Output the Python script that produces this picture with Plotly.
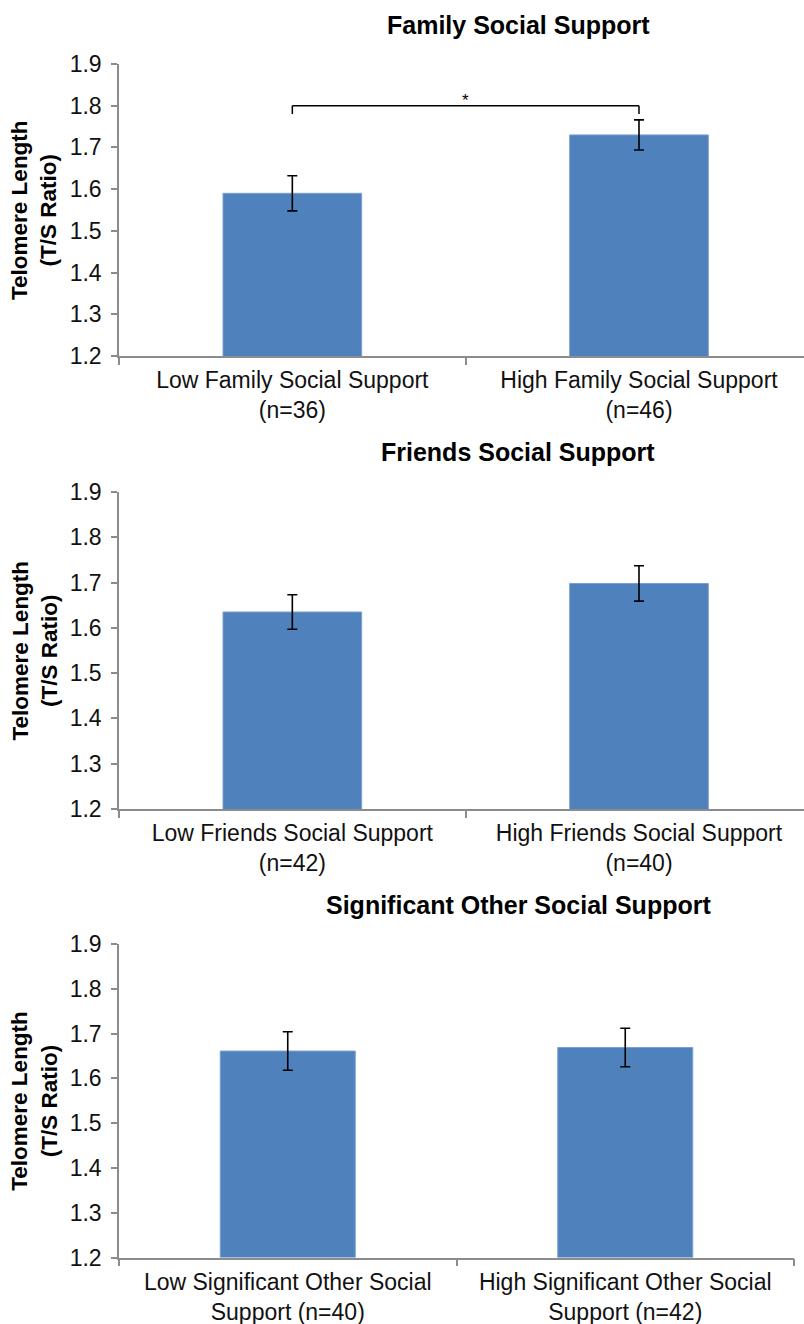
import plotly.graph_objects as go

# ---------------- data ----------------
titles = ["Family Social Support", "Friends Social Support", "Significant Other Social Support"]

cats_family = ["Low Family Social Support<br>(n=36)", "High Family Social Support<br>(n=46)"]
cats_friends = ["Low Friends Social Support<br>(n=42)", "High Friends Social Support<br>(n=40)"]
cats_sigother = ["Low Significant Other Social<br>Support (n=40)", "High Significant Other Social<br>Support (n=42)"]

means_family = [1.59, 1.73]
err_family = [0.042, 0.036]
means_friends = [1.635, 1.698]
err_friends = [0.038, 0.039]
means_sigother = [1.661, 1.669]
err_sigother = [0.043, 0.043]

y_ticks = [1.2, 1.3, 1.4, 1.5, 1.6, 1.7, 1.8, 1.9]
y_title = "Telomere Length<br>(T/S Ratio)"
sig_label = "*"
sig_y = 1.80

# ---------------- style ----------------
W, H = 804, 1324
BAR = "#4F81BD"
AXC = "#8C8C8C"
FONT = "Liberation Sans, Arial, sans-serif"

def py(p):  # pixel from top -> paper y
    return 1 - p / H

def px(p):
    return p / W

panels = [
    (cats_family, means_family, err_family, (64, 356), (119, 804), [-0.5, 1.476]),
    (cats_friends, means_friends, err_friends, (492, 809), (119, 804), [-0.5, 1.476]),
    (cats_sigother, means_sigother, err_sigother, (944, 1257.5), (119, 794), [-0.5, 1.5]),
]
title_y = [25, 452, 905]

fig = go.Figure()
annotations = []
for i, (cats, means, errs, (yt, yb), (xl, xr), xr_range) in enumerate(panels):
    n = "" if i == 0 else str(i + 1)
    fig.add_trace(go.Bar(
        x=cats, y=means,
        marker=dict(color=BAR, line=dict(color="#7A9FCF", width=1)),
        width=0.4,
        error_y=dict(type="data", array=errs, visible=True, color="black", thickness=1.6, width=5),
        xaxis="x" + n, yaxis="y" + n, showlegend=False,
    ))
    fig.layout["xaxis" + n] = dict(
        domain=[px(xl), px(xr)], anchor="y" + n, type="category", range=xr_range,
        showline=True, linecolor=AXC, linewidth=1.5, ticks="outside", tickson="boundaries",
        ticklen=7, tickcolor=AXC, tickwidth=1.5, showgrid=False, automargin=False,
        tickfont=dict(family=FONT, size=23, color="#111"), ticklabelstandoff=3,
    )
    fig.layout["yaxis" + n] = dict(
        domain=[py(yb), py(yt)], anchor="x" + n, range=[1.2, 1.9],
        tickvals=y_ticks, tickformat=".1f", automargin=False,
        showline=True, linecolor=AXC, linewidth=1.5, ticks="outside", ticklen=6,
        tickcolor=AXC, tickwidth=1.5, showgrid=False, zeroline=False,
        tickfont=dict(family=FONT, size=23, color="#111"), ticklabelstandoff=5,
    )
    annotations.append(dict(
        text="<b>" + titles[i] + "</b>", xref="paper", yref="paper",
        x=px(518), y=py(title_y[i]), xanchor="center", yanchor="middle",
        showarrow=False, font=dict(family=FONT, size=25, color="black"),
    ))
    annotations.append(dict(
        text="<b>" + y_title + "</b>", xref="paper", yref="paper",
        x=px(34), y=py((yt + yb) / 2), xanchor="center", yanchor="middle",
        textangle=-90, showarrow=False, font=dict(family=FONT, size=22.5, color="black"),
    ))

# significance bracket on panel 1
fig.add_shape(type="line", xref="x", yref="y", x0=0, x1=1, y0=sig_y, y1=sig_y,
              line=dict(color="black", width=1.5))
fig.add_shape(type="line", xref="x", yref="y", x0=0, x1=0, y0=sig_y, y1=sig_y - 0.02,
              line=dict(color="black", width=1.5))
fig.add_shape(type="line", xref="x", yref="y", x0=1, x1=1, y0=sig_y, y1=sig_y - 0.02,
              line=dict(color="black", width=1.5))
annotations.append(dict(text=sig_label, xref="x", yref="y", x=0.5, y=sig_y + 0.012,
                        xanchor="center", yanchor="middle", showarrow=False,
                        font=dict(family=FONT, size=17, color="black")))

fig.update_layout(
    width=W, height=H, margin=dict(l=0, r=0, t=0, b=0, autoexpand=False),
    paper_bgcolor="white", plot_bgcolor="white",
    annotations=annotations, bargap=0.6,
)

post = ("document.documentElement.style.margin='0';document.documentElement.style.padding='0';"
        "document.body.style.margin='0';document.body.style.padding='0';"
        "document.documentElement.style.overflow='hidden';document.body.style.overflow='hidden';"
        "var d=document.querySelector('.plotly-graph-div');"
        "d.style.position='fixed';d.style.top='0px';d.style.left='0px';")
fig.write_html("out.html", post_script=post, config={"displayModeBar": False})
